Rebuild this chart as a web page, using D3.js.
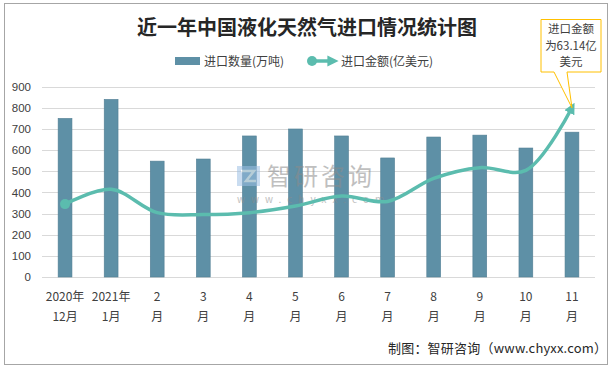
<!DOCTYPE html>
<html>
<head>
<meta charset="utf-8">
<script src="https://cdn.jsdelivr.net/npm/d3@7"></script>
<style>
  body { margin: 0; background: #fff; }
  text { font-family: "Noto Sans CJK SC", "Liberation Sans", sans-serif; }
</style>
</head>
<body>
<div id="chart"></div>
<script>
// data
var months = ["2020年12月", "2021年1月", "2月", "3月", "4月", "5月", "6月", "7月", "8月", "9月", "10月", "11月"];
var tickTop = ["2020年", "2021年", "2", "3", "4", "5", "6", "7", "8", "9", "10", "11"];
var tickBottom = ["12月", "1月", "月", "月", "月", "月", "月", "月", "月", "月", "月", "月"];
var volume = [750, 840, 548, 558, 667, 700, 667, 563, 662, 671, 610, 685];   // 万吨
var amount = [27.2, 32.7, 24.0, 23.3, 24.0, 26.5, 30.2, 28.2, 36.8, 40.8, 39.8, 63.14]; // 亿美元
var yTicks = [0, 100, 200, 300, 400, 500, 600, 700, 800, 900];

var svgWidth = 612, svgHeight = 370;
var plotLeft = 42, plotRight = 595, plotTop = 86.7, plotBottom = 277;

var svg = d3.select("#chart").append("svg")
    .attr("width", svgWidth)
    .attr("height", svgHeight);

// outer border
svg.append("rect")
    .attr("x", 4.5).attr("y", 3.5)
    .attr("width", 603).attr("height", 361)
    .attr("fill", "#fff")
    .attr("stroke", "#a6a6a6");

var x = d3.scaleBand()
    .domain(months)
    .range([plotLeft, plotRight])
    .paddingInner(0.7)
    .paddingOuter(0.35);

var y = d3.scaleLinear().domain([0, 900]).range([plotBottom, plotTop]);
var y2 = d3.scaleLinear().domain([0, 71]).range([plotBottom, plotTop]);  // hidden secondary axis

// gridlines
svg.append("g").selectAll("line")
  .data(yTicks)
  .enter().append("line")
    .attr("x1", plotLeft).attr("x2", plotRight)
    .attr("y1", d => Math.round(y(d)) + 0.5)
    .attr("y2", d => Math.round(y(d)) + 0.5)
    .attr("stroke", "#d9d9d9");

// y axis labels
var yAxis = d3.axisLeft(y).tickValues(yTicks).tickSize(0).tickPadding(0);
var yg = svg.append("g")
    .attr("transform", "translate(31,0)")
    .call(yAxis);
yg.select(".domain").remove();
yg.selectAll("text")
    .attr("fill", "#404040")
    .style("font-size", "11.5px")
    .style("font-family", "'Liberation Sans', Arial, sans-serif");

// x axis labels (two lines)
var xg = svg.append("g");
xg.selectAll("text.t1")
  .data(months)
  .enter().append("text")
    .attr("x", d => x(d) + x.bandwidth() / 2)
    .attr("y", 301)
    .attr("text-anchor", "middle")
    .attr("fill", "#404040")
    .style("font-size", "12px")
    .text((d, i) => tickTop[i]);
xg.selectAll("text.t2")
  .data(months)
  .enter().append("text")
    .attr("x", d => x(d) + x.bandwidth() / 2)
    .attr("y", 321)
    .attr("text-anchor", "middle")
    .attr("fill", "#404040")
    .style("font-size", "12px")
    .text((d, i) => tickBottom[i]);

// bars
svg.append("g").selectAll("rect")
  .data(volume)
  .enter().append("rect")
    .attr("x", (d, i) => x(months[i]))
    .attr("y", d => y(d))
    .attr("width", x.bandwidth())
    .attr("height", d => plotBottom - y(d))
    .attr("fill", "#5e90a6")
    .attr("stroke", "#527f94")
    .attr("stroke-width", 0.6);

// watermark
var wm = svg.append("g").attr("opacity", 0.55);
wm.append("rect").attr("x", 237).attr("y", 166).attr("width", 23).attr("height", 20).attr("fill", "#9dc0e4");
wm.append("path").attr("d", "M241,171 H254 L246,181 H256").attr("fill", "none").attr("stroke", "#fff").attr("stroke-width", 2.5);
wm.append("text")
    .attr("x", 267).attr("y", 185)
    .attr("fill", "#8c8c8c")
    .style("font-size", "24px")
    .style("letter-spacing", "3px")
    .text("智研咨询");
wm.append("text")
    .attr("x", 237).attr("y", 203)
    .attr("fill", "#8c8c8c")
    .style("font-size", "10px")
    .style("letter-spacing", "6px")
    .text("www.chyxx.com");

// line with arrow
var defs = svg.append("defs");
defs.append("marker")
    .attr("id", "arrow")
    .attr("viewBox", "0 0 10 10")
    .attr("refX", 5).attr("refY", 5)
    .attr("markerWidth", 3.2).attr("markerHeight", 3.2)
    .attr("orient", "auto")
  .append("path")
    .attr("d", "M0,0 L10,5 L0,10 Z")
    .attr("fill", "#5bbcae");

var line = d3.line()
    .x((d, i) => x(months[i]) + x.bandwidth() / 2)
    .y(d => y2(d))
    .curve(d3.curveCatmullRom.alpha(0.5));

svg.append("path")
    .datum(amount)
    .attr("d", line)
    .attr("fill", "none")
    .attr("stroke", "#5bbcae")
    .attr("stroke-width", 3.5)
    .attr("marker-end", "url(#arrow)");

svg.append("circle")
    .attr("cx", x(months[0]) + x.bandwidth() / 2)
    .attr("cy", y2(amount[0]))
    .attr("r", 5)
    .attr("fill", "#5bbcae");

// title
svg.append("text")
    .attr("x", 307).attr("y", 35)
    .attr("text-anchor", "middle")
    .attr("fill", "#262626")
    .style("font-size", "20px")
    .style("font-weight", "bold")
    .text("近一年中国液化天然气进口情况统计图");

// legend
var lg = svg.append("g");
lg.append("rect").attr("x", 175).attr("y", 57).attr("width", 25).attr("height", 8).attr("fill", "#5e90a6");
lg.append("text").attr("x", 204).attr("y", 65.5).attr("fill", "#404040").style("font-size", "12px").text("进口数量(万吨)");
lg.append("line").attr("x1", 312).attr("x2", 333).attr("y1", 61).attr("y2", 61)
    .attr("stroke", "#5bbcae").attr("stroke-width", 3.5).attr("marker-end", "url(#arrow)");
lg.append("circle").attr("cx", 312).attr("cy", 61).attr("r", 5).attr("fill", "#5bbcae");
lg.append("text").attr("x", 341).attr("y", 65.5).attr("fill", "#404040").style("font-size", "12px").text("进口金额(亿美元)");

// callout
var last = months.length - 1;
var tipX = x(months[last]) + x.bandwidth() / 2;
var tipY = y2(amount[last]);
svg.append("path")
    .attr("d", "M541,19.5 H601 V72 H567 L" + tipX + "," + tipY + " L554,72 H541 Z")
    .attr("fill", "#fff")
    .attr("stroke", "#ffc000")
    .attr("stroke-width", 1);
var cl = ["进口金额", "为" + amount[last] + "亿", "美元"];
svg.append("g").selectAll("text")
  .data(cl)
  .enter().append("text")
    .attr("x", 571)
    .attr("y", (d, i) => 33 + i * 16.5)
    .attr("text-anchor", "middle")
    .attr("fill", "#404040")
    .style("font-size", "11.5px")
    .text(d => d);

// source
svg.append("text")
    .attr("x", 388).attr("y", 353)
    .attr("fill", "#262626")
    .style("font-size", "13px")
    .attr("textLength", 219)
    .text("制图：智研咨询（www.chyxx.com）");
</script>
</body>
</html>
